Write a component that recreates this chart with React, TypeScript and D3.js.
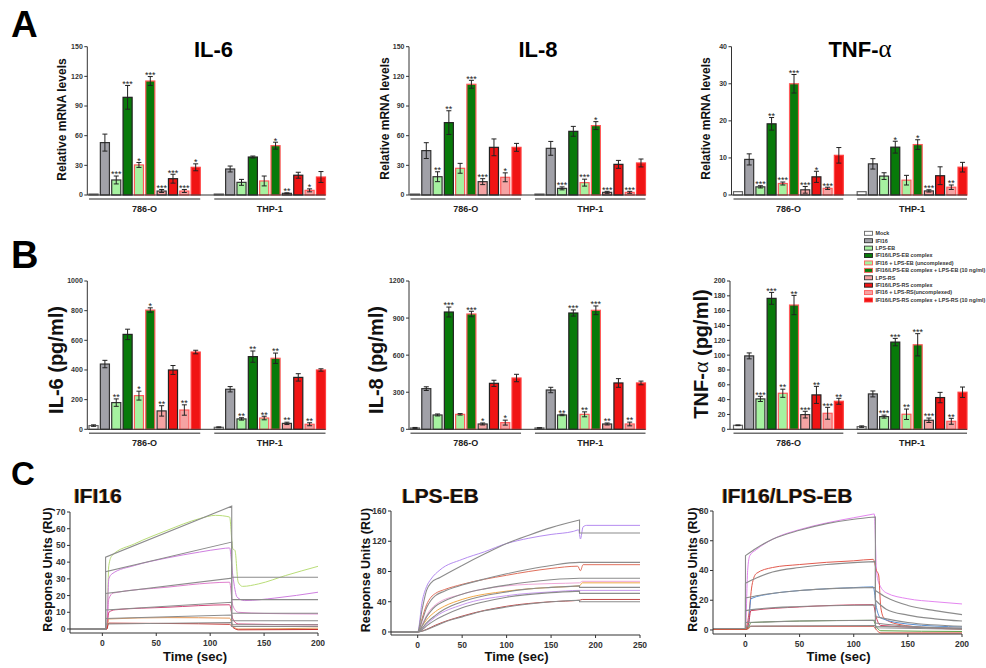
import React from 'react';
import * as d3 from 'd3';

const FONT = 'Arial, "Liberation Sans", Helvetica, sans-serif';
const SERIF = '"Liberation Serif", "DejaVu Serif", serif';

// ---- bar chart data (panels A and B) ----
const groups = ['786-O', 'THP-1'];
const conditions = [
  'Mock',
  'IFI16',
  'LPS-EB',
  'IFI16/LPS-EB complex',
  'IFI16 + LPS-EB (uncomplexed)',
  'IFI16/LPS-EB complex + LPS-EB (10 ng/ml)',
  'LPS-RS',
  'IFI16/LPS-RS complex',
  'IFI16 + LPS-RS(uncomplexed)',
  'IFI16/LPS-RS complex + LPS-RS (10 ng/ml)',
];
const condFill = ['#ffffff', '#a1a1a8', '#a6f2a0', '#087a0a', '#a6f2a0', '#087a0a', '#f5a3a3', '#f01414', '#f5a3a3', '#f01414'];
const condStroke = ['#666', '#333', '#333', '#222', '#ff5a5a', '#ff5a5a', '#333', '#222', '#ff5a5a', '#ff4040'];

const il6MrnaMean = [
  [1, 53, 15.2, 98.8, 30.4, 115.3, 4, 16.5, 4, 28],
  [1, 26.3, 12.8, 38.4, 14.2, 49.9, 1.7, 20, 4.7, 18.2],
];
const il6MrnaErr = [
  [0, 8.6, 4, 12, 2.5, 4.5, 1.5, 4.5, 1.5, 3.5],
  [0, 3, 3, 1, 5, 3.5, 0.5, 3, 1.5, 5.5],
];
const il6MrnaStars = [
  ['', '', '***', '***', '*', '***', '***', '***', '***', '*'],
  ['', '', '', '', '', '*', '**', '', '*', ''],
];

const il8MrnaMean = [
  [1, 44.9, 18.5, 73.2, 27, 112, 13.5, 48.2, 17.9, 48.2],
  [1, 47.2, 6.7, 64.4, 12.5, 70.2, 2.7, 31, 2.7, 32.4],
];
const il8MrnaErr = [
  [0, 8, 5, 12, 5, 4, 3, 8.5, 4.5, 4],
  [0, 7, 1.5, 5, 3.5, 4, 1, 4, 1, 4],
];
const il8MrnaStars = [
  ['', '', '**', '**', '', '***', '***', '', '*', ''],
  ['', '', '***', '', '***', '*', '***', '', '***', ''],
];

const tnfMrnaMean = [
  [0.9, 9.6, 2.2, 19.2, 3.1, 30, 1.4, 4.9, 1.8, 10.7],
  [0.9, 8.4, 5.1, 12.9, 4, 13.6, 1.1, 5.2, 2.1, 7.5],
];
const tnfMrnaErr = [
  [0, 1.5, 0.3, 1.7, 0.4, 2.5, 0.9, 1.5, 0.3, 2.1],
  [0, 1.4, 0.9, 1.6, 1.3, 1.3, 0.3, 2.4, 0.6, 1.3],
];
const tnfMrnaStars = [
  ['', '', '***', '**', '***', '***', '***', '*', '***', ''],
  ['', '', '', '*', '', '*', '***', '', '**', ''],
];

const il6ProtMean = [
  [25, 440, 180, 640, 227, 804, 124, 400, 130, 521],
  [13.5, 270, 70, 490, 76, 479, 40, 350, 34, 400],
];
const il6ProtErr = [
  [5, 25, 25, 35, 30, 15, 35, 30, 35, 12],
  [3, 18, 8, 38, 12, 35, 8, 25, 10, 8],
];
const il6ProtStars = [
  ['', '', '**', '', '*', '*', '**', '', '**', ''],
  ['', '', '**', '**', '**', '**', '**', '', '**', ''],
];

const il8ProtMean = [
  [11, 329, 116, 949, 121, 933, 43, 372, 54, 415],
  [11, 318, 116, 941, 121, 963, 43, 375, 43, 375],
];
const il8ProtErr = [
  [4, 15, 8, 40, 6, 22, 8, 25, 20, 30],
  [2, 22, 6, 25, 20, 35, 8, 35, 15, 15],
];
const il8ProtStars = [
  ['', '', '', '***', '', '***', '*', '', '*', ''],
  ['', '', '**', '***', '**', '***', '**', '', '**', ''],
];

const tnfProtMean = [
  [5.4, 99, 41, 176.6, 48.6, 167.6, 19.8, 46.4, 21.6, 37.8],
  [3.6, 47.7, 17.1, 117.6, 20.3, 114, 12.2, 42.8, 10.8, 50],
];
const tnfProtErr = [
  [0.5, 4, 3.5, 8, 5.5, 13, 4.5, 11.5, 8, 4],
  [1, 4, 2, 5, 7, 15, 3, 7, 4, 7],
];
const tnfProtStars = [
  ['', '', '***', '***', '**', '**', '***', '**', '***', '**'],
  ['', '', '***', '***', '**', '***', '***', '', '**', ''],
];

const ticks150 = [0, 30, 60, 90, 120, 150];
const ticks40 = [0, 10, 20, 30, 40];
const ticks1000 = [0, 200, 400, 600, 800, 1000];
const ticks1200 = [0, 300, 600, 900, 1200];
const ticks200 = [0, 20, 40, 60, 80, 100, 120, 140, 160, 180, 200];

// ---- sensorgram data (panel C), [time s, RU] ----
const ifi16Fits = [
  [[-30, 0], [3, 0], [3, 43], [120, 73.5], [120, 31], [200, 31]],
  [[-30, 0], [3, 0], [3, 34.3], [120, 52], [120, 17.6], [200, 17.6]],
  [[-30, 0], [3, 0], [3, 21.2], [120, 30.4], [120, 9.4], [200, 9.4]],
  [[-30, 0], [3, 0], [3, 11.4], [120, 16], [120, 4.9], [200, 4.9]],
  [[-30, 0], [3, 0], [3, 6.3], [120, 8.4], [120, 2.5], [200, 2.5]],
  [[-30, 0], [3, 0], [3, 3], [120, 3.9], [120, 1.5], [200, 1.5]],
];
const ifi16Traces = [
  [[-30, 0.3], [-10, -0.2], [4, 0], [6, 38], [9, 44], [30, 51], [60, 59], [90, 66], [105, 68], [118, 67], [121, 48], [123, 47], [126, 28], [130, 25.5], [145, 27], [170, 32], [200, 37.5]],
  [[-30, 0], [4, 0], [6, 30], [9, 33], [30, 38], [60, 42.5], [90, 46], [110, 48], [118, 48.5], [121, 32], [125, 19], [132, 17], [160, 18.5], [200, 22]],
  [[-30, 0], [4, 0], [6, 18], [10, 21.5], [60, 25], [100, 27.5], [118, 28], [121, 14], [126, 10], [150, 9.3], [200, 9]],
  [[-30, 0], [4, 0], [6, 10], [12, 11.5], [60, 13], [118, 14.5], [121, 6], [126, 3], [200, 2.5]],
  [[-30, 0], [4, 0], [6, 6], [60, 6.8], [118, 6.5], [121, 2], [126, 0], [200, 0.5]],
  [[-30, -0.3], [4, 0], [6, 3.5], [60, 3.3], [118, 2.8], [121, 1], [126, -0.5], [200, -0.3]],
];
const ifi16TraceColors = ['#b9dd78', '#cf7fe0', '#e07fce', '#d2467a', '#e39858', '#c4302e'];

const lpsFits = [
  [[-30, 0], [0, 0], [5, 30], [10, 55], [15, 65], [25, 72], [50, 88], [75, 103], [100, 117], [125, 128], [150, 138], [182, 148], [182, 131], [250, 131]],
  [[-30, 0], [0, 0], [5, 15], [10, 32], [15, 42], [20, 48], [30, 54], [50, 62], [75, 70], [100, 77], [125, 83], [150, 88], [182, 92], [250, 92]],
  [[-30, 0], [0, 0], [5, 8], [10, 20], [15, 28], [20, 34], [30, 41], [50, 50], [75, 57], [100, 62], [125, 66], [150, 69], [182, 71], [250, 71]],
  [[-30, 0], [0, 0], [5, 5], [10, 12], [20, 22], [30, 30], [50, 40], [75, 48], [100, 53], [125, 57], [150, 59], [182, 61], [182, 59], [250, 59]],
  [[-30, 0], [0, 0], [5, 3], [10, 8], [20, 16], [30, 22], [50, 32], [75, 40], [100, 46], [150, 52], [182, 54], [182, 51], [250, 51]],
  [[-30, 0], [0, 0], [5, 1], [10, 3], [20, 8], [30, 13], [50, 20], [75, 28], [100, 33], [125, 37], [150, 40], [182, 42], [182, 40], [250, 40]],
];
const lpsTraces = [
  [[-30, 0.5], [0, 0], [5, 40], [10, 60], [15, 70], [25, 82], [50, 96], [75, 106], [100, 117], [125, 124], [150, 129], [175, 133], [181, 135], [183, 123], [186, 139], [190, 141], [250, 141]],
  [[-30, 0], [0, 0], [5, 18], [10, 36], [15, 46], [20, 51], [30, 56], [50, 63], [100, 75], [150, 84], [180, 87], [183, 81], [186, 89], [250, 89]],
  [[-30, 0], [0, 0], [5, 10], [10, 22], [20, 36], [50, 50], [100, 61], [150, 64], [182, 65], [185, 67], [250, 67]],
  [[-30, 0], [0, 0], [5, 8], [10, 16], [20, 27], [30, 34], [50, 43], [100, 54], [150, 59], [182, 61], [185, 65], [250, 65]],
  [[-30, 0], [0, 0], [10, 10], [20, 20], [50, 36], [100, 48], [150, 53], [182, 55], [250, 55]],
  [[-30, 0], [0, 0], [10, 3.5], [20, 9], [50, 21], [100, 34], [150, 40], [182, 42], [185, 43], [250, 43]],
];
const lpsTraceColors = ['#b58cf0', '#e0705c', '#f0a8d8', '#f0a848', '#c898f0', '#c04848'];

const complexFits = [
  [[-30, 1], [0, 1], [0, 50], [10, 55], [25, 61], [50, 67], [75, 71.5], [100, 74.5], [120, 76], [120, 26.6], [130, 22], [150, 16.5], [175, 13], [200, 10.3]],
  [[-30, 1], [0, 1], [0, 31.5], [10, 35], [25, 39], [50, 42], [75, 44], [100, 45.3], [120, 46], [120, 20], [130, 14], [150, 10], [175, 7.5], [200, 6]],
  [[-30, 1], [0, 1], [0, 21.5], [10, 23], [50, 26.5], [100, 28.3], [120, 28.6], [120, 9], [150, 5], [200, 2.5]],
  [[-30, 1], [0, 1], [0, 13], [10, 14], [50, 15.8], [100, 16.6], [120, 16.8], [120, 4.7], [150, 2.5], [200, 1.3]],
  [[-30, 1], [0, 1], [0, 5], [50, 6], [120, 6.5], [120, 2.5], [200, 1]],
  [[-30, 1], [0, 1], [0, 2.5], [120, 3], [120, 1.5], [200, 0.5]],
];
const complexTraces = [
  [[-30, 1], [0, 1], [2, 40], [4, 50], [10, 54], [25, 61], [50, 67.5], [75, 72], [100, 75.5], [115, 77.5], [119, 78], [121, 40], [123, 32], [130, 25], [150, 21], [175, 19], [200, 17.5]],
  [[-30, 0.5], [0, 0.5], [3, 10], [6, 30], [10, 38], [25, 42], [50, 44], [75, 45.5], [100, 46.5], [118, 47.5], [121, 40], [123, 37], [125, 15], [128, 8], [140, 4], [170, 1.5], [200, 0.5]],
  [[-30, 0.5], [1, 0.5], [3, 5], [5, 21], [25, 24.5], [50, 26.5], [100, 28.5], [118, 29], [121, 15], [125, 8], [150, 4], [200, 2]],
  [[-30, 0.5], [1, 0.5], [3, 5], [5, 13], [50, 15.5], [118, 17], [121, 8], [125, 3], [200, 1]],
  [[-30, 0.5], [1, 0.5], [3, 2], [5, 5], [50, 6], [118, 6.5], [121, 2], [125, -0.5], [200, -1]],
  [[-30, 0.5], [1, 0.5], [3, 1], [5, 2.5], [118, 2.5], [121, 0], [125, -2], [200, -2]],
];
const complexTraceColors = ['#e486f0', '#e25a4e', '#5a8fd0', '#d2385a', '#5fa044', '#e04a3c'];

// ---- components ----
function BarChart({ axisX, x0, x1, yTop, y0, max, ticks, means, errs, stars }) {
  const y = d3.scaleLinear().domain([0, max]).range([y0, yTop]);
  const gx = d3.scaleBand().domain(groups).range([x0, x1]).paddingInner(0.112);
  const bx = d3
    .scaleBand()
    .domain(d3.range(conditions.length))
    .range([0, gx.bandwidth()])
    .paddingInner(0.2)
    .paddingOuter(0);
  const bw = bx.bandwidth();
  return (
    <g>
      {groups.map((g, gi) => (
        <g key={g}>
          {conditions.map((c, ci) => {
            const v = means[gi][ci];
            const e = errs[gi][ci];
            const left = gx(g) + bx(ci);
            const cx = left + bw / 2;
            const top = y(v);
            const eTop = y(v + e);
            const eBot = y(Math.max(0, v - e));
            return (
              <g key={c}>
                <rect
                  x={left}
                  y={top}
                  width={bw}
                  height={Math.max(0.5, y0 - top)}
                  fill={condFill[ci]}
                  stroke={condStroke[ci]}
                  strokeWidth={1.2}
                />
                {e > 0 && (
                  <g stroke="#222" strokeWidth={1}>
                    <line x1={cx} x2={cx} y1={eTop} y2={eBot} />
                    <line x1={cx - 2.5} x2={cx + 2.5} y1={eTop} y2={eTop} />
                    <line x1={cx - 2.5} x2={cx + 2.5} y1={eBot} y2={eBot} />
                  </g>
                )}
                {stars[gi][ci] && (
                  <text x={cx} y={eTop + 1.3} textAnchor="middle" fontSize={9} fill="#222">
                    {stars[gi][ci]}
                  </text>
                )}
              </g>
            );
          })}
          <line
            x1={gx(g)}
            x2={gx(g) + gx.bandwidth()}
            y1={y0 + 4}
            y2={y0 + 4}
            stroke="#6e6e6e"
            strokeWidth={1.6}
          />
          <text
            x={gx(g) + gx.bandwidth() / 2}
            y={y0 + 17}
            textAnchor="middle"
            fontSize={9}
            fontWeight="bold"
            fill="#222"
          >
            {g}
          </text>
        </g>
      ))}
      <line x1={axisX} x2={x1} y1={y0} y2={y0} stroke="#333" strokeWidth={1} />
      <line x1={axisX} x2={axisX} y1={y0} y2={yTop} stroke="#333" strokeWidth={1} />
      {ticks.map((t) => (
        <g key={t}>
          <line x1={axisX - 3} x2={axisX} y1={y(t)} y2={y(t)} stroke="#333" />
          <text
            x={axisX - 4.5}
            y={y(t)}
            dy="0.35em"
            textAnchor="end"
            fontSize={7}
            fontWeight="bold"
            fill="#333"
          >
            {t}
          </text>
        </g>
      ))}
    </g>
  );
}

function tracePath(pts, x, y) {
  const runs = [];
  let cur = [];
  pts.forEach((p, i) => {
    if (i > 0 && p[0] <= pts[i - 1][0]) {
      runs.push(cur);
      cur = [];
    }
    cur.push(p);
  });
  runs.push(cur);
  const gen = d3
    .line()
    .x((d) => x(d[0]))
    .y((d) => y(d[1]))
    .curve(d3.curveMonotoneX);
  return runs
    .map((r, i) => {
      const s = r.length > 1 ? gen(r) : `M${x(r[0][0])},${y(r[0][1])}`;
      return i === 0 ? s : 'L' + s.slice(1);
    })
    .join('');
}

function Sensorgram({ xDomain, xRange, yDomain, yRange, xTicks, yTicks, fits, traces, colors, title, titleX, yLabelX }) {
  const x = d3.scaleLinear().domain(xDomain).range(xRange);
  const y = d3.scaleLinear().domain(yDomain).range(yRange);
  const yMid = (yRange[0] + yRange[1]) / 2 - 3;
  return (
    <g>
      <text x={titleX - 0.8} y={503} fontSize={21} fontWeight="bold" fill="#d88a3c">
        {title}
      </text>
      <text x={titleX} y={503} fontSize={21} fontWeight="bold" fill="#111">
        {title}
      </text>
      <g fill="none">
        {traces.map((t, i) => (
          <path key={'t' + i} d={tracePath(t, x, y)} stroke={colors[i]} strokeWidth={1} />
        ))}
        {fits.map((f, i) => (
          <path key={'f' + i} d={tracePath(f, x, y)} stroke="#8c8c8c" strokeWidth={1.1} />
        ))}
      </g>
      <line x1={xRange[0]} x2={xRange[1]} y1={yRange[0]} y2={yRange[0]} stroke="#333" />
      <line x1={xRange[0]} x2={xRange[0]} y1={yRange[0]} y2={yRange[1]} stroke="#333" />
      {yTicks.map((t) => (
        <g key={t}>
          <line x1={xRange[0] - 3} x2={xRange[0]} y1={y(t)} y2={y(t)} stroke="#333" />
          <text x={xRange[0] - 4.5} y={y(t)} dy="0.35em" textAnchor="end" fontSize={8.5} fontWeight="bold" fill="#333">
            {t}
          </text>
        </g>
      ))}
      {xTicks.map((t) => (
        <g key={t}>
          <line x1={x(t)} x2={x(t)} y1={yRange[0]} y2={yRange[0] + 3} stroke="#333" />
          <text x={x(t)} y={yRange[0] + 13} textAnchor="middle" fontSize={8.5} fontWeight="bold" fill="#333">
            {t}
          </text>
        </g>
      ))}
      <text
        transform={`translate(${yLabelX},${yMid}) rotate(-90)`}
        dy="0.35em"
        textAnchor="middle"
        fontSize={12.5}
        fontWeight="bold"
        fill="#111"
      >
        Response Units (RU)
      </text>
      <text x={(xRange[0] + xRange[1]) / 2 + 1} y={661} textAnchor="middle" fontSize={13} fontWeight="bold" fill="#111">
        Time (sec)
      </text>
    </g>
  );
}

function VLabel({ x, y, size, children }) {
  return (
    <text
      transform={`translate(${x},${y}) rotate(-90)`}
      dy="0.35em"
      textAnchor="middle"
      fontSize={size}
      fontWeight="bold"
      fill="#111"
    >
      {children}
    </text>
  );
}

export default function App() {
  const A = { yTop: 46.7, y0: 195 };
  const B = { yTop: 281, y0: 429.3 };
  return (
    <svg
      width={986}
      height={668}
      style={{ position: 'absolute', left: 0, top: 0 }}
      fontFamily={FONT}
    >
      <rect width={986} height={668} fill="#fff" />

      {/* Panel letters */}
      <text x={11} y={37} fontSize={37} fontWeight="bold">A</text>
      <text x={11} y={268} fontSize={38} fontWeight="bold">B</text>
      <text x={11} y={485} fontSize={33} fontWeight="bold">C</text>

      {/* Panel A titles */}
      <text x={213.5} y={57} textAnchor="middle" fontSize={22} fontWeight="bold">IL-6</text>
      <text x={538} y={57} textAnchor="middle" fontSize={22} fontWeight="bold">IL-8</text>
      <text x={860} y={57} textAnchor="middle" fontSize={22} fontWeight="bold">
        TNF-<tspan fontFamily={SERIF} fontWeight="normal" fontSize={25}>α</tspan>
      </text>

      {/* Panel A */}
      <BarChart axisX={87.3} x0={89} x1={325.5} {...A} max={150} ticks={ticks150}
        means={il6MrnaMean} errs={il6MrnaErr} stars={il6MrnaStars} />
      <BarChart axisX={409} x0={410.5} x1={645.5} {...A} max={150} ticks={ticks150}
        means={il8MrnaMean} errs={il8MrnaErr} stars={il8MrnaStars} />
      <BarChart axisX={731.5} x0={733.5} x1={967} {...A} max={40} ticks={ticks40}
        means={tnfMrnaMean} errs={tnfMrnaErr} stars={tnfMrnaStars} />
      <VLabel x={62} y={119.5} size={12}>Relative mRNA levels</VLabel>
      <VLabel x={385} y={118.5} size={12}>Relative mRNA levels</VLabel>
      <VLabel x={706} y={118.5} size={12}>Relative mRNA levels</VLabel>

      {/* Panel B */}
      <BarChart axisX={87.3} x0={89} x1={325.5} {...B} max={1000} ticks={ticks1000}
        means={il6ProtMean} errs={il6ProtErr} stars={il6ProtStars} />
      <BarChart axisX={409} x0={410.5} x1={645.5} {...B} max={1200} ticks={ticks1200}
        means={il8ProtMean} errs={il8ProtErr} stars={il8ProtStars} />
      <BarChart axisX={730} x0={733.5} x1={967} {...B} max={200} ticks={ticks200}
        means={tnfProtMean} errs={tnfProtErr} stars={tnfProtStars} />
      <VLabel x={56} y={360} size={20}>IL-6 (pg/ml)</VLabel>
      <VLabel x={376} y={360} size={20}>IL-8 (pg/ml)</VLabel>
      <VLabel x={701} y={354} size={20}>
        TNF-<tspan fontFamily={SERIF} fontWeight="normal" fontSize={22}>α</tspan> (pg/ml)
      </VLabel>

      {/* Legend */}
      {conditions.map((c, i) => {
        const cy = 233.3 + i * 7.41;
        return (
          <g key={c}>
            <rect x={864.5} y={cy - 2} width={8} height={4} fill={condFill[i]} stroke={condStroke[i]} strokeWidth={0.9} />
            <text x={875.5} y={cy} dy="0.35em" fontSize={5.4} fontWeight="bold" fill="#333">
              {c}
            </text>
          </g>
        );
      })}

      {/* Panel C */}
      <Sensorgram
        xDomain={[-30, 200]} xRange={[70, 318]} yDomain={[-2.4, 70]} yRange={[633, 512]}
        xTicks={[0, 50, 100, 150, 200]} yTicks={[0, 10, 20, 30, 40, 50, 60, 70]}
        fits={ifi16Fits} traces={ifi16Traces} colors={ifi16TraceColors}
        title="IFI16" titleX={74} yLabelX={48}
      />
      <Sensorgram
        xDomain={[-30, 250]} xRange={[391, 640]} yDomain={[-4, 160]} yRange={[635, 511]}
        xTicks={[0, 50, 100, 150, 200, 250]} yTicks={[0, 40, 80, 120, 160]}
        fits={lpsFits} traces={lpsTraces} colors={lpsTraceColors}
        title="LPS-EB" titleX={402} yLabelX={366}
      />
      <Sensorgram
        xDomain={[-30, 200]} xRange={[713, 962]} yDomain={[-2.7, 80]} yRange={[634, 511]}
        xTicks={[0, 50, 100, 150, 200]} yTicks={[0, 20, 40, 60, 80]}
        fits={complexFits} traces={complexTraces} colors={complexTraceColors}
        title="IFI16/LPS-EB" titleX={722} yLabelX={693}
      />
    </svg>
  );
}
